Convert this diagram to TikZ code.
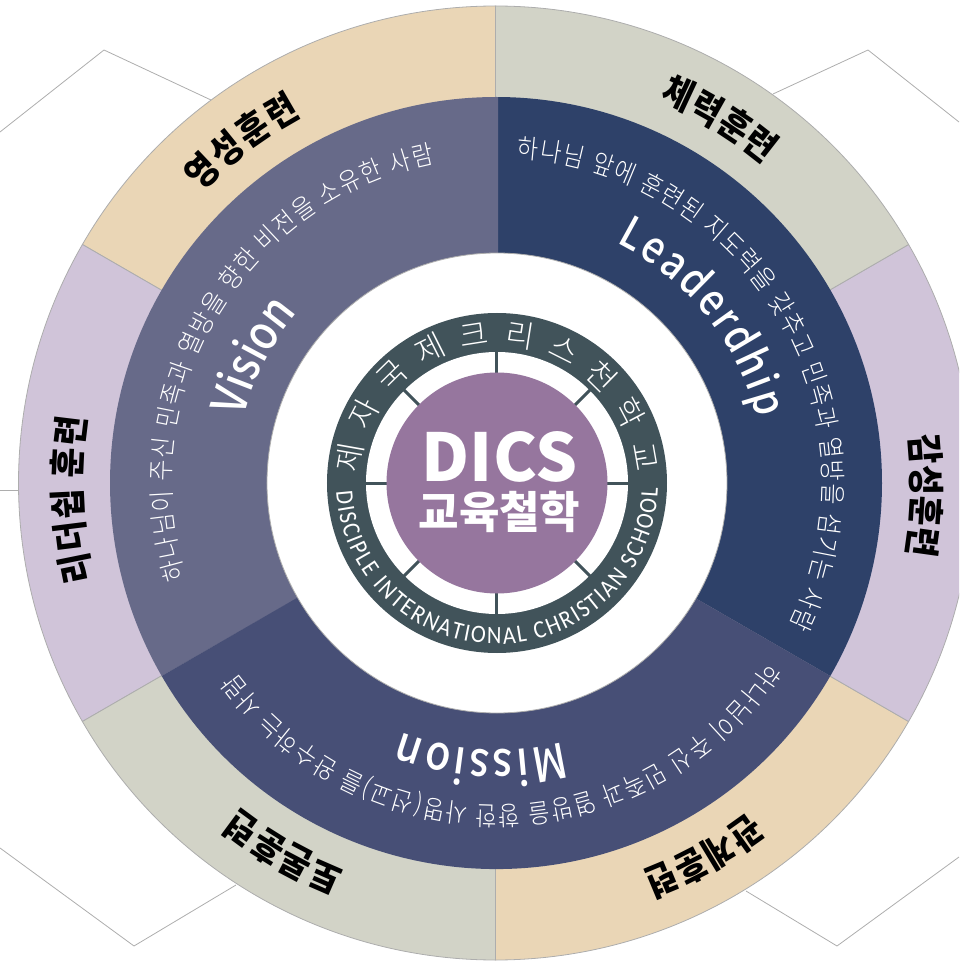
\documentclass[tikz,border=0pt]{standalone}
\usepackage{fontspec}
\usetikzlibrary{decorations.text}
\newfontfamily\kofont{Noto Sans CJK KR}
\newfontfamily\kothin[FakeStretch=0.87]{Noto Sans CJK KR Light}
\newfontfamily\kolight{Noto Sans CJK KR Light}
\newfontfamily\konarrow[FakeStretch=0.88]{Noto Sans CJK KR}
\newfontfamily\enfont[FakeStretch=0.86]{Noto Sans CJK KR Medium}
\newfontfamily\ringfont[FakeStretch=0.9]{Carlito}

\definecolor{beigeseg}{HTML}{EAD6B6}
\definecolor{greyseg}{HTML}{D2D3C7}
\definecolor{lilacseg}{HTML}{D0C4D9}
\definecolor{visionseg}{HTML}{676A89}
\definecolor{leadseg}{HTML}{2E4169}
\definecolor{missionseg}{HTML}{474F76}
\definecolor{ringdark}{HTML}{41535A}
\definecolor{corepurple}{HTML}{96769E}
\definecolor{edgegrey}{HTML}{ADADAD}

\tikzset{
    edge/.style={draw=edgegrey,line width=0.8pt},
    spoke/.style={draw=ringdark,line width=3pt},
    hanja/.style={text=white,font=\kolight\fontsize{31}{31}\selectfont,inner sep=0pt}
}

% radius, start angle, end angle, colour, font, text
\newcommand{\arctext}[6]{
    \path[decorate,decoration={text along path,text color=#4,text align={fit to path},
        text={|#5|#6}}] (#2:#1) arc[start angle=#2,end angle=#3,radius=#1];
}
\newcommand{\kosmall}{\kothin\fontsize{26.5}{26.5}\selectfont}
\newcommand{\kolabel}{\konarrow\bfseries\fontsize{37}{37}\selectfont}
\newcommand{\enbig}{\enfont\fontsize{48}{48}\selectfont}
\newcommand{\enmid}{\enfont\fontsize{44}{44}\selectfont}

\begin{document}
\begin{tikzpicture}[x=1pt,y=1pt]

    \clip (-497,-478) rectangle (462,483);

    %back lines
    \draw [edge] (-497,351) -- (-393,433) -- (-286,383);
    \draw [edge] (276,389) -- (371,433) -- (462,361);
    \draw [edge] (-497,-7) -- (-479,-7);
    \draw [edge] (-497,-365) -- (-363,-463) -- (-261,-402);
    \draw [edge] (249,-408) -- (340,-463) -- (462,-374);

    %outer ring
    \begin{scope}[xshift=-1.5pt]
    \foreach \sa/\ea/\segcol in {90/150/beigeseg,150/210/lilacseg,210/270/greyseg,
        270/330/beigeseg,330/390/lilacseg,30/90/greyseg}
        \filldraw [edge,fill=\segcol] (0,0) -- (\sa:477) arc[start angle=\sa,end angle=\ea,radius=477] -- cycle;
    \end{scope}

    %middle ring
    \begin{scope}[xshift=-1pt]
    \fill [leadseg] (0,0) -- (90:386) arc[start angle=90,end angle=-30,radius=386] -- cycle;
    \fill [visionseg] (2,0) -- (89.7:386) arc[start angle=89.7,end angle=210,radius=386] -- cycle;
    \fill [missionseg] (0,0) -- (210:386) arc[start angle=210,end angle=330,radius=386] -- cycle;
    \end{scope}

    \filldraw [edge,fill=white] (0,0) circle (230);

    %centre
    \fill [ringdark] (0,0) circle (170);
    \fill [white] (0,0) circle (131);
    \foreach \a in {0,45,...,315}
        \draw [spoke] (\a:108) -- (\a:132);
    \fill [corepurple] (0,0) circle (110.5);

    \node [text=white,inner sep=0pt,font=\kofont\bfseries\fontsize{66}{66}\selectfont] (dics) at (2.5,26) {DICS};
    \node [text=white,inner sep=0pt,font=\kofont\bfseries\fontsize{44}{44}\selectfont] (philosophy) at (2.5,-29) {교육철학};

    \foreach \ch [count=\i from 0] in {제,자,국,제,크,리,스,천,학,교}
        \node [hanja,rotate={80-\i*17.78}] (ko\i) at ({170-\i*17.78}:150) {\ch};

    \arctext{161}{183}{358}{white}{\ringfont\fontsize{25}{25}\selectfont}{DISCIPLE INTERNATIONAL CHRISTIAN SCHOOL}

    %texts of the middle ring
    \arctext{326}{197}{101}{white}{\kosmall}{하나님이 주신 민족과 열방을 향한 비전을 소유한 사람}
    \arctext{326}{86.5}{-26}{white}{\kosmall}{하나님 앞에 훈련된 지도력을 갖추고 민족과 열방을 섬기는 사람}
    \arctext{323}{-33.5}{-144}{white}{\kosmall}{하나님이 주신 민족과 열방을 향한 사명(선교)를 완수하는 사람}

    \arctext{262}{165.5}{140}{white}{\enbig}{Vision}
    \arctext{268}{63.5}{14}{white}{\enmid}{Leaderdhip}
    \arctext{267}{-75.5}{-111}{white}{\enbig}{Mission}

    %labels of the outer ring
    \arctext{416}{135.5}{118}{black}{\kolabel}{영성훈련}
    \arctext{416}{67}{50}{black}{\kolabel}{체력훈련}
    \arctext{416}{6.5}{-9.5}{black}{\kolabel}{감성훈련}
    \arctext{416}{-52.5}{-69.5}{black}{\kolabel}{관계훈련}
    \arctext{416}{-111.5}{-128.5}{black}{\kolabel}{토론훈련}
    \arctext{416}{193.5}{171}{black}{\kolabel}{리더쉽 훈련}

\end{tikzpicture}
\end{document}
